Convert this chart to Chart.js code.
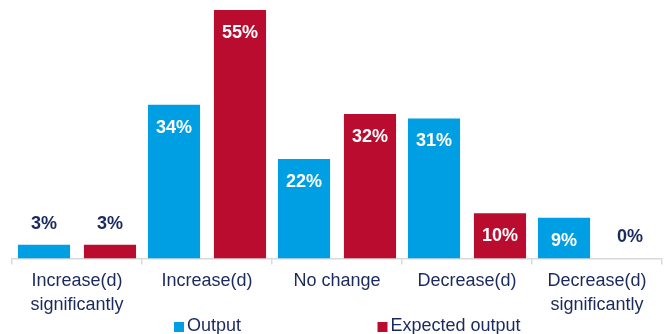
<!DOCTYPE html>
<html>
<head>
<meta charset="utf-8">
<script src="https://cdn.jsdelivr.net/npm/chart.js@4.4.0/dist/chart.umd.min.js"></script>
<style>
  html, body { margin: 0; padding: 0; background: #ffffff; }
  #wrap { width: 668px; height: 334px; position: relative; }
</style>
</head>
<body>
<div id="wrap"><canvas id="c" width="668" height="334"></canvas></div>
<script>
const categories = [
  ["Increase(d)", "significantly"],
  ["Increase(d)"],
  ["No change"],
  ["Decrease(d)"],
  ["Decrease(d)", "significantly"]
];
const seriesNames = ["Output", "Expected output"];
const outputValues = [3, 34, 22, 31, 9];
const expectedValues = [3, 55, 32, 10, 0];

const BLUE = "#009FE3";
const RED = "#BA0C2F";
const NAVY = "#1B2A5E";
const FONT = "'Liberation Sans', Arial, Helvetica, sans-serif";

const valueLabels = {
  id: "valueLabels",
  afterDatasetsDraw(chart) {
    const ctx = chart.ctx;
    ctx.save();
    ctx.font = "bold 18px " + FONT;
    ctx.textAlign = "center";
    ctx.textBaseline = "middle";
    chart.data.datasets.forEach((ds, di) => {
      const meta = chart.getDatasetMeta(di);
      meta.data.forEach((bar, i) => {
        const v = ds.data[i];
        const txt = v + "%";
        if (v >= 9) {
          ctx.fillStyle = "#ffffff";
          ctx.fillText(txt, bar.x, bar.y + 23);
        } else {
          ctx.fillStyle = NAVY;
          ctx.fillText(txt, bar.x, bar.y - 21);
        }
      });
    });
    ctx.restore();
  }
};

const customLegend = {
  id: "customLegend",
  afterDraw(chart) {
    const ctx = chart.ctx;
    ctx.save();
    ctx.font = "18px " + FONT;
    ctx.textBaseline = "middle";
    ctx.textAlign = "left";
    const starts = [174, 377.5];
    chart.data.datasets.forEach((ds, di) => {
      const x = starts[di];
      ctx.fillStyle = ds.backgroundColor;
      ctx.fillRect(x, 322, 10, 10);
      ctx.fillStyle = NAVY;
      ctx.fillText(ds.label, x + 13, 326);
    });
    ctx.restore();
  }
};

new Chart(document.getElementById("c"), {
  type: "bar",
  data: {
    labels: categories,
    datasets: [
      { label: seriesNames[0], data: outputValues, backgroundColor: BLUE },
      { label: seriesNames[1], data: expectedValues, backgroundColor: RED }
    ]
  },
  options: {
    responsive: false,
    animation: false,
    devicePixelRatio: 1,
    layout: { padding: { top: 10, left: 12, right: 6, bottom: 13 } },
    datasets: { bar: { categoryPercentage: 1.015, barPercentage: 0.79 } },
    plugins: {
      legend: { display: false },
      tooltip: { enabled: false }
    },
    scales: {
      x: {
        grid: {
          offset: true,
          drawOnChartArea: false,
          drawTicks: true,
          tickLength: 6,
          color: "#D9D9D9",
          lineWidth: 1.5
        },
        border: { display: true, color: "#D9D9D9", width: 1.5 },
        ticks: {
          color: NAVY,
          padding: 4,
          maxRotation: 0,
          autoSkip: false,
          font: { family: FONT, size: 18, lineHeight: 1.35 }
        }
      },
      y: {
        display: false,
        min: 0,
        max: 55
      }
    }
  },
  plugins: [valueLabels, customLegend]
});
</script>
</body>
</html>
